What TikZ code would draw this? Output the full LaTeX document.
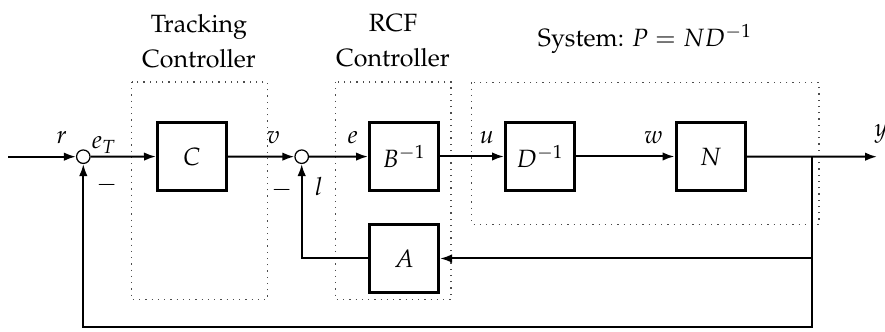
\documentclass[tikz,border=0pt]{standalone}
\usepackage[T1]{fontenc}
\usepackage{mathpazo}
\usetikzlibrary{arrows.meta}

\begin{document}
\begin{tikzpicture}[x=0.4pt, y=-0.4pt,
  blockbox/.style={draw, line width=1.2pt, minimum width=27.6pt, minimum height=27.2pt, inner sep=0pt},
  sumnode/.style={draw, circle, line width=0.5pt, minimum size=5.4pt, inner sep=0pt},
  groupbox/.style={draw=black!70, dotted, line width=0.5pt},
  link/.style={line width=0.8pt},
  arr/.style={link, -{Latex[length=4.8pt, width=3.4pt]}},
  sig/.style={inner sep=0pt}
]
\useasboundingbox (0,0) rectangle (885,332);

% dotted groupings
\draw[groupbox] (131.5,82) rectangle (267.5,299.5);
\draw[groupbox] (335.5,82) rectangle (451,299.5);
\draw[groupbox] (471.7,82.5) rectangle (819,224.3);

% group titles
\node[align=center] (ttrack) at (199,41) {Tracking\\[2pt]Controller};
\node[align=center] (trcf) at (393,41) {RCF\\[2pt]Controller};
\node (tsys) at (645,39) {System: $P = ND^{-1}$};

% summing junctions and blocks
\node[sumnode] (s1) at (83.3,156.7) {};
\node[sumnode] (s2) at (301.7,156.7) {};
\node[blockbox] (C) at (192,156.5) {$C$};
\node[blockbox] (B) at (404,156.5) {$B^{-1}$};
\node[blockbox] (D) at (540,156.5) {$D^{-1}$};
\node[blockbox] (N) at (710.5,156.5) {$N$};
\node[blockbox] (A) at (404,258.5) {$A$};

\coordinate (in) at (8,156.7);
\coordinate (br) at (811.7,156.7);
\coordinate (out) at (877,156.7);
\coordinate (bot) at (811.7,326.7);

% forward path
\draw[arr] (in) -- (s1);
\draw[arr] (s1) -- (C);
\draw[arr] (C) -- (s2);
\draw[arr] (s2) -- (B);
\draw[arr] (B) -- (D);
\draw[arr] (D) -- (N);
\draw[arr] (N) -- (out);

% feedback paths
\draw[arr] (br) |- (A.east);
\draw[arr] (A.west) -| (s2.south);
\draw[arr] (br) -- (bot) -| (s1.south);

% signal labels
\node[sig] (lr) at (61.7,138) {$r$};
\node[sig] (leT) at (104,145) {$e_T$};
\node[sig] (lm1) at (106.7,185) {$-$};
\node[sig] (lv) at (273.3,138) {$v$};
\node[sig] (lm2) at (281.7,190) {$-$};
\node[sig] (ll) at (319,186.7) {$l$};
\node[sig] (le) at (352.7,138) {$e$};
\node[sig] (lu) at (486.7,138) {$u$};
\node[sig] (lw) at (653.3,138) {$w$};
\node[sig] (ly) at (881,134) {$y$};
\end{tikzpicture}
\end{document}
